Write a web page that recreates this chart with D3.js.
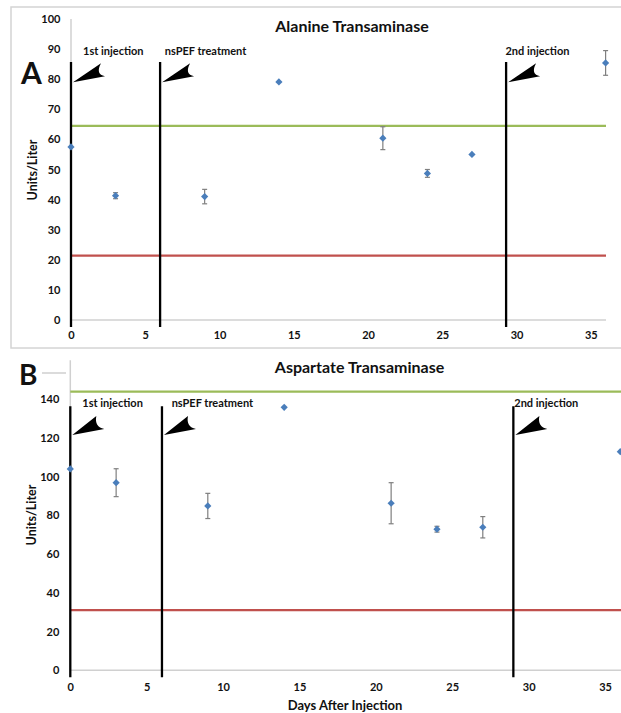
<!DOCTYPE html>
<html>
<head>
<meta charset="utf-8">
<script src="https://cdn.jsdelivr.net/npm/d3@7/dist/d3.min.js"></script>
<style>
	body { margin: 0; background: #fff; }
	text { font-family: Lato, "Open Sans", sans-serif; font-weight: bold; fill: #111; }
</style>
</head>
<body>
<svg id="fig" width="621" height="713"></svg>
<script>
// Sampling days (shared by both panels)
var days = [0, 3, 9, 14, 21, 24, 27, 36];

// Panel A: alanine transaminase, mean and error (units/liter)
var altMean = [57.5, 41.3, 41.0, 79.1, 60.4, 48.7, 55.0, 85.4];
var altErr = [0, 1.0, 2.4, 0, 3.8, 1.3, 0, 4.1];
var altUpper = 64.5;
var altLower = 21.4;
var altTicks = [0, 10, 20, 30, 40, 50, 60, 70, 80, 90, 100];

// Panel B: aspartate transaminase
var astMean = [103.9, 96.8, 84.8, 135.7, 86.2, 72.8, 73.8, 112.8];
var astErr = [0, 7.2, 6.5, 0, 10.6, 1.5, 5.5, 0];
var astUpper = 143.8;
var astLower = 31.0;
var astTicks = [0, 20, 40, 60, 80, 100, 120, 140];

// Event markers (days)
var eventLabels = ["1st injection", "nsPEF treatment", "2nd injection"];
var eventDaysA = [0, 6, 29.3];
var eventDaysB = [0, 6, 29];
var xTicks = [0, 5, 10, 15, 20, 25, 30, 35];

var svg = d3.select("#fig");

function drawPanel(p) {
	/* Draws one scatter panel with error bars, reference lines and event flags.
	*/
	var g = svg.append("g");
	var x = d3.scaleLinear().domain([0, 36]).range(p.xRange);
	var y = d3.scaleLinear().domain(p.yDomain).range(p.yRange);

	if (p.box) {
		g.append("rect")
			.attr("x", p.box[0]).attr("y", p.box[1])
			.attr("width", p.box[2]).attr("height", p.box[3])
			.attr("fill", "none").attr("stroke", "#d4d4d4").attr("stroke-width", 1.5);
	}

	// gray axis lines
	g.append("line")
		.attr("x1", x(0)).attr("x2", p.xAxisEnd)
		.attr("y1", y(0)).attr("y2", y(0))
		.attr("stroke", "#d0d0d0").attr("stroke-width", 1.5);
	g.append("line")
		.attr("x1", x(0)).attr("x2", x(0))
		.attr("y1", y(0)).attr("y2", y(p.yDomain[1]))
		.attr("stroke", "#d0d0d0").attr("stroke-width", 1.5);

	// tick labels only
	var yAxis = g.append("g")
		.attr("transform", "translate(" + x(0) + ",0)")
		.call(d3.axisLeft(y).tickValues(p.yTicks).tickSize(0).tickPadding(p.yPad));
	var xAxis = g.append("g")
		.attr("transform", "translate(0," + y(0) + ")")
		.call(d3.axisBottom(x).tickValues(xTicks).tickSize(0).tickPadding(p.xPad));
	[yAxis, xAxis].forEach(function(a) {
		a.select(".domain").remove();
		a.selectAll("text")
			.attr("font-family", "Lato, sans-serif")
			.attr("font-weight", "bold")
			.attr("font-size", 11)
			.attr("fill", "#111");
	});

	// reference range lines
	[[p.upper, "#9bbb59"], [p.lower, "#c0504d"]].forEach(function(r) {
		g.append("line")
			.attr("x1", x(0)).attr("x2", p.refEnd)
			.attr("y1", y(r[0])).attr("y2", y(r[0]))
			.attr("stroke", r[1]).attr("stroke-width", 2.2);
	});

	// event lines with flags and labels
	p.events.forEach(function(d, i) {
		var lx = x(d);
		g.append("line")
			.attr("x1", lx).attr("x2", lx)
			.attr("y1", y(p.lineTop)).attr("y2", y(0) + 7)
			.attr("stroke", "#000").attr("stroke-width", 2.3);
		g.append("path")
			.attr("transform", "translate(" + lx + "," + y(p.flagTip) + ")")
			.attr("d", "M2,0 L" + p.flagW + ",-19 Q24,-8 34,-6 Z")
			.attr("fill", "#000");
		g.append("text")
			.attr("x", lx + p.labelDx[i])
			.attr("y", y(p.labelAt))
			.attr("dy", "0.35em")
			.attr("font-size", 11)
			.text(eventLabels[i]);
	});

	// error bars
	var pts = days.map(function(d, i) { return { day: d, mean: p.mean[i], err: p.err[i] }; });
	var bars = g.append("g").attr("stroke", "#7f7f7f").attr("stroke-width", 1.2);
	pts.filter(function(d) { return d.err > 0; }).forEach(function(d) {
		var cx = x(d.day);
		bars.append("line")
			.attr("x1", cx).attr("x2", cx)
			.attr("y1", y(d.mean - d.err)).attr("y2", y(d.mean + d.err));
		[d.mean - d.err, d.mean + d.err].forEach(function(v) {
			bars.append("line")
				.attr("x1", cx - 2.5).attr("x2", cx + 2.5)
				.attr("y1", y(v)).attr("y2", y(v));
		});
	});

	// diamond markers
	g.append("g").selectAll("path")
		.data(pts)
		.enter()
			.append("path")
			.attr("d", d3.symbol().type(d3.symbolSquare).size(26))
			.attr("transform", function(d) { return "translate(" + x(d.day) + "," + y(d.mean) + ") rotate(45)"; })
			.attr("fill", "#4a7ebb");

	// titles
	g.append("text")
		.attr("x", p.titleX).attr("y", p.titleY)
		.attr("dy", "0.35em")
		.attr("text-anchor", "middle")
		.attr("font-size", 16)
		.text(p.title);
	g.append("text")
		.attr("transform", "translate(" + p.yLabelPos[0] + "," + p.yLabelPos[1] + ") rotate(-90)")
		.attr("dy", "0.35em")
		.attr("text-anchor", "middle")
		.attr("font-size", 12.5)
		.text("Units/Liter");
	g.append("text")
		.attr("x", p.letterPos[0]).attr("y", p.letterPos[1])
		.attr("font-family", "'Liberation Sans', Arial, sans-serif")
		.attr("font-size", p.letterSize)
		.attr("fill", "#000")
		.text(p.letter);
	return g;
}

drawPanel({
	mean: altMean, err: altErr, upper: altUpper, lower: altLower,
	yTicks: altTicks, events: eventDaysA,
	xRange: [71, 605.6], yDomain: [0, 100], yRange: [320, 19],
	xAxisEnd: 606, refEnd: 606, yPad: 10.5, xPad: 11,
	box: [11, 7, 620, 341],
	lineTop: 85.7, flagTip: 79, flagW: 30, labelAt: 89.2, labelDx: [12, 4.7, -0.7],
	title: "Alanine Transaminase", titleX: 352, titleY: 26,
	yLabelPos: [32.5, 170], letter: "A", letterPos: [21, 84], letterSize: 30
});

var b = drawPanel({
	mean: astMean, err: astErr, upper: astUpper, lower: astLower,
	yTicks: astTicks, events: eventDaysB,
	xRange: [70.3, 620.3], yDomain: [0, 160], yRange: [670.3, 360.2],
	xAxisEnd: 621, refEnd: 621, yPad: 11, xPad: 12.6,
	box: null,
	lineTop: 136.2, flagTip: 121.4, flagW: 26, labelAt: 137.7, labelDx: [12, 9.7, 0.9],
	title: "Aspartate Transaminase", titleX: 359.5, titleY: 367,
	yLabelPos: [32, 515], letter: "B", letterPos: [19, 385], letterSize: 28
});

// short gray border stub beside the "B" letter
b.append("line")
	.attr("x1", 42).attr("x2", 66).attr("y1", 373).attr("y2", 373)
	.attr("stroke", "#cfcfcf").attr("stroke-width", 1.5);

svg.append("text")
	.attr("x", 345).attr("y", 705)
	.attr("dy", "0.35em")
	.attr("text-anchor", "middle")
	.attr("font-size", 13)
	.text("Days After Injection");
</script>
</body>
</html>
